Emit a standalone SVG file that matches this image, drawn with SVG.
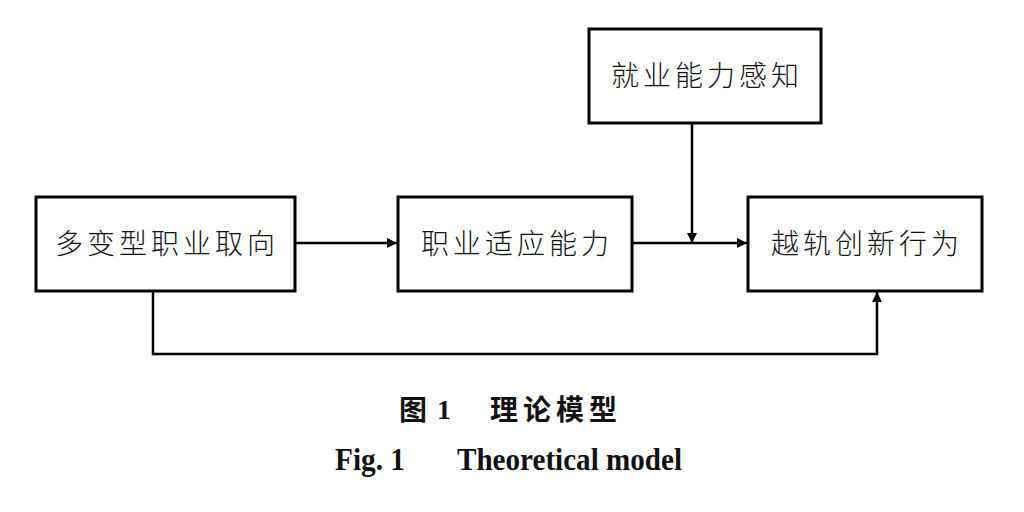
<svg xmlns="http://www.w3.org/2000/svg" width="1024" height="512" viewBox="0 0 1024 512">
<style>
.box{fill:#fff;stroke:#000;stroke-width:3}
.lbl{font-family:"Noto Sans CJK SC","Noto Sans CJK JP",sans-serif;font-size:28px;letter-spacing:4px;fill:#111;text-anchor:middle;font-weight:300}
.ln{fill:none;stroke:#000;stroke-width:2.5}
.capc{font-family:"Noto Sans CJK SC",sans-serif;font-weight:bold;font-size:28px;fill:#111}
.cape{font-family:"Liberation Serif",serif;font-weight:bold;font-size:32px;fill:#111}
</style>
<defs>
<marker id="ah" viewBox="0 0 10 10" refX="10" refY="5" markerWidth="10" markerHeight="10" markerUnits="userSpaceOnUse" orient="auto">
<path d="M0,0 L10,5 L0,10 z" fill="#000"/>
</marker>
</defs>
<rect width="1024" height="512" fill="#fff"/>
<g id="connectors">
<line class="ln" x1="295" y1="243" x2="397" y2="243" marker-end="url(#ah)"/>
<line class="ln" x1="632" y1="243" x2="747" y2="243" marker-end="url(#ah)"/>
<line class="ln" x1="692" y1="123" x2="692" y2="243" marker-end="url(#ah)"/>
<polyline class="ln" points="153,291 153,354 877,354 877,292" marker-end="url(#ah)"/>
</g>
<g id="n1"><rect class="box" x="36" y="197" width="259" height="94"/><text class="lbl" x="167" y="254">多变型职业取向</text></g>
<g id="n2"><rect class="box" x="398" y="197" width="234" height="94"/><text class="lbl" x="517" y="254">职业适应能力</text></g>
<g id="n3"><rect class="box" x="748" y="197" width="234" height="94"/><text class="lbl" x="867" y="254">越轨创新行为</text></g>
<g id="n4"><rect class="box" x="589" y="29" width="232" height="94"/><text class="lbl" x="707" y="86">就业能力感知</text></g>
<g id="caption">
<text class="capc" x="399" y="420">图</text>
<text class="cape" x="437" y="419" style="font-size:28px">1</text>
<text class="capc" x="490" y="420" textLength="127" lengthAdjust="spacing">理论模型</text>
<text class="cape" x="335" y="470" textLength="70" lengthAdjust="spacingAndGlyphs">Fig. 1</text>
<text class="cape" x="457" y="470" textLength="225" lengthAdjust="spacingAndGlyphs">Theoretical model</text>
</g>
</svg>
